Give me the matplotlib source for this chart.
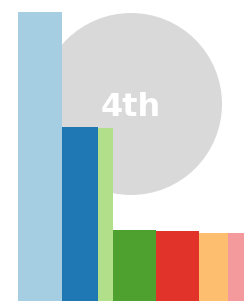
import matplotlib
matplotlib.use("Agg")
import matplotlib.pyplot as plt
from matplotlib.patches import Circle

# bar data (left to right)
widths = [44, 36, 15, 43, 43, 29, 20]
heights = [289, 174, 173, 71, 70, 68, 68]
colors = ["#a6cee3", "#1f78b4", "#b2df8a", "#4ea12f", "#e2332b", "#fdbf6f", "#f59a9c"]
label = "4th"

lefts = []
pos = 0
for w in widths:
    lefts.append(pos)
    pos += w

fig = plt.figure(figsize=(2.44, 3.03), dpi=100)
ax = fig.add_axes([0, 0, 1, 1])

# grey badge behind the bars
circ = Circle((113.5, 197), 91, color="#d9d9d9", zorder=1, lw=0)
ax.add_patch(circ)
ax.text(113, 194, label, color="white", fontsize=23, fontweight="bold",
        ha="center", va="center", zorder=2)

ax.bar(lefts, heights, width=widths, align="edge", color=colors, zorder=3, lw=0)

ax.set_xlim(-17.5, 226.5)
ax.set_ylim(-2, 301)
ax.set_aspect("equal")
ax.axis("off")

fig.savefig("out.png", dpi=100, facecolor="white")
